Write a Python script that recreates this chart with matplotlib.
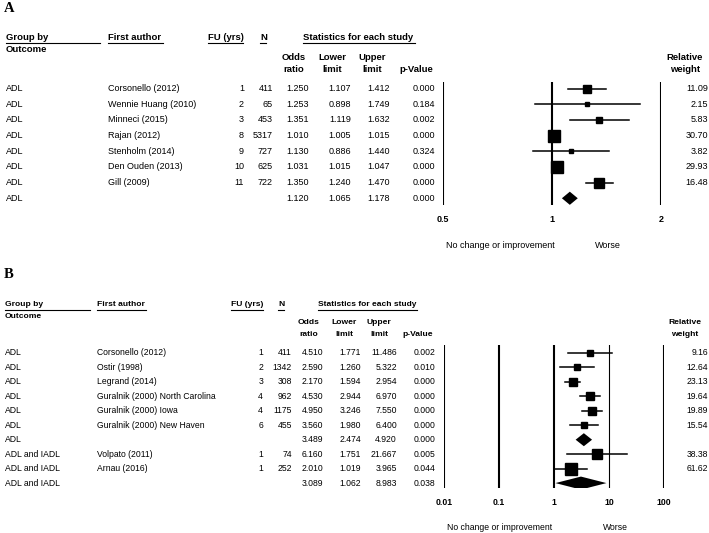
import numpy as np
import matplotlib
matplotlib.use("Agg")
from matplotlib import pyplot as plt
from matplotlib.transforms import blended_transform_factory
from matplotlib.ticker import NullLocator

plt.rcParams['font.family'] = ['Liberation Sans', 'DejaVu Sans']

# ---- panel A data ----
outcomeA = ['ADL'] * 8
authorA = ['Corsonello (2012)', 'Wennie Huang (2010)', 'Minneci (2015)', 'Rajan (2012)',
           'Stenholm (2014)', 'Den Ouden (2013)', 'Gill (2009)', '']
fuA = [1, 2, 3, 8, 9, 10, 11, None]
nA = [411, 65, 453, 5317, 727, 625, 722, None]
orA = [1.250, 1.253, 1.351, 1.010, 1.130, 1.031, 1.350, 1.120]
lowA = [1.107, 0.898, 1.119, 1.005, 0.886, 1.015, 1.240, 1.065]
upA = [1.412, 1.749, 1.632, 1.015, 1.440, 1.047, 1.470, 1.178]
pA = [0.000, 0.184, 0.002, 0.000, 0.324, 0.000, 0.000, 0.000]
weightA = [11.09, 2.15, 5.83, 30.70, 3.82, 29.93, 16.48, None]
ticksA = [0.5, 1, 2]
tick_labelsA = ['0.5', '1', '2']

# ---- panel B data ----
outcomeB = ['ADL'] * 7 + ['ADL and IADL'] * 3
authorB = ['Corsonello (2012)', 'Ostir (1998)', 'Legrand (2014)', 'Guralnik (2000) North Carolina',
           'Guralnik (2000) Iowa', 'Guralnik (2000) New Haven', '', 'Volpato (2011)', 'Arnau (2016)', '']
fuB = [1, 2, 3, 4, 4, 6, None, 1, 1, None]
nB = [411, 1342, 308, 962, 1175, 455, None, 74, 252, None]
orB = [4.510, 2.590, 2.170, 4.530, 4.950, 3.560, 3.489, 6.160, 2.010, 3.089]
lowB = [1.771, 1.260, 1.594, 2.944, 3.246, 1.980, 2.474, 1.751, 1.019, 1.062]
upB = [11.486, 5.322, 2.954, 6.970, 7.550, 6.400, 4.920, 21.667, 3.965, 8.983]
pB = [0.002, 0.010, 0.000, 0.000, 0.000, 0.000, 0.000, 0.005, 0.044, 0.038]
weightB = [9.16, 12.64, 23.13, 19.64, 19.89, 15.54, None, 38.38, 61.62, None]
ticksB = [0.01, 0.1, 1, 10, 100]
tick_labelsB = ['0.01', '0.1', '1', '10', '100']

W, H = 709, 533
fig = plt.figure(figsize=(W / 100, H / 100), dpi=100)
ax_txt = fig.add_axes([0, 0, 1, 1])
ax_txt.set_xlim(0, W)
ax_txt.set_ylim(H, 0)
ax_txt.axis('off')


def uline(x0, x1, y):
    ax_txt.plot([x0, x1], [y, y], color='black', lw=0.8)


def panel(letter, lay, outcome, author, fu, n, oddsr, low, up, p, weight, ticks, tick_labels):
    fs, hfs = lay['fs'], lay['hfs']
    # panel letter
    ax_txt.text(4, lay['label_y'], letter, fontsize=10.5, fontweight='bold',
                family=['Liberation Serif'], va='center', ha='left')

    # forest plot axes, placed in pixel space
    x0, x1 = lay['fx']
    y0, y1 = lay['fy']
    ax = fig.add_axes([x0 / W, 1 - y1 / H, (x1 - x0) / W, (y1 - y0) / H])
    ax.set_xscale('log')
    ax.set_xlim(ticks[0], ticks[-1])
    ax.set_ylim(*lay['ylim'])
    ax.set_facecolor('none')
    for s in ax.spines.values():
        s.set_visible(False)
    ax.xaxis.set_minor_locator(NullLocator())
    ax.set_xticks(ticks)
    ax.set_xticklabels(tick_labels, fontweight='bold', fontsize=fs)
    ax.set_yticks([])
    ax.tick_params(axis='x', length=0, pad=lay['pad'])
    for t in ticks:
        ax.axvline(t, color='black', lw=0.8 if t == 10 else 1.5)

    rows = np.arange(len(oddsr))
    for i in rows:
        if weight[i] is None:
            h = lay['dh']
            ax.fill([low[i], oddsr[i], up[i], oddsr[i]], [i, i - h, i, i + h],
                    color='black', lw=0)
        else:
            ax.plot([low[i], up[i]], [i, i], color='black', lw=1.1)
            side = lay['sq'] * np.sqrt(weight[i]) + 1.0
            ax.plot(oddsr[i], i, marker='s', color='black', ms=side * 0.72, lw=0)

    # table text, rows share the forest y scale
    tr = blended_transform_factory(ax_txt.transData, ax.transData)
    cx = lay['cols']
    for i in rows:
        kw = dict(transform=tr, va='center', fontsize=fs)
        ax_txt.text(cx['outcome'], i, outcome[i], ha='left', **kw)
        ax_txt.text(cx['author'], i, author[i], ha='left', **kw)
        if fu[i] is not None:
            ax_txt.text(cx['fu'], i, str(fu[i]), ha='right', **kw)
            ax_txt.text(cx['n'], i, str(n[i]), ha='right', **kw)
        ax_txt.text(cx['or'], i, '%.3f' % oddsr[i], ha='right', **kw)
        ax_txt.text(cx['lo'], i, '%.3f' % low[i], ha='right', **kw)
        ax_txt.text(cx['up'], i, '%.3f' % up[i], ha='right', **kw)
        ax_txt.text(cx['p'], i, '%.3f' % p[i], ha='right', **kw)
        if weight[i] is not None:
            ax_txt.text(cx['w'], i, '%.2f' % weight[i], ha='right', **kw)

    # headers
    hk = dict(fontsize=hfs, fontweight='bold', va='center')
    hy = lay['h_y']
    ax_txt.text(lay['group_x'], hy, 'Group by', ha='left', **hk)
    ax_txt.text(lay['group_x'], lay['outc_y'], 'Outcome', ha='left', **hk)
    ax_txt.text(cx['author'], hy, 'First author', ha='left', **hk)
    ax_txt.text(lay['fu_x'], hy, 'FU (yrs)', ha='left', **hk)
    ax_txt.text(lay['n_x'], hy, 'N', ha='left', **hk)
    ax_txt.text(lay['stats_x'][0], hy, 'Statistics for each study', ha='left',
                fontsize=lay['sfs'], fontweight='bold', va='center')
    uy = hy + 5
    uline(lay['group_x'], lay['group_end'], uy)
    uline(cx['author'], lay['author_end'], uy)
    uline(lay['fu_x'], lay['fu_end'], uy)
    uline(lay['n_x'], lay['n_x'] + 6, uy)
    uline(lay['stats_x'][0], lay['stats_x'][1], uy)
    l1, l2 = lay['sub_y']
    hc = lay['hc']
    ax_txt.text(hc['or'], l1, 'Odds', ha='center', **hk)
    ax_txt.text(hc['or'], l2, 'ratio', ha='center', **hk)
    ax_txt.text(hc['lo'], l1, 'Lower', ha='center', **hk)
    ax_txt.text(hc['lo'], l2, 'limit', ha='center', **hk)
    ax_txt.text(hc['up'], l1, 'Upper', ha='center', **hk)
    ax_txt.text(hc['up'], l2, 'limit', ha='center', **hk)
    ax_txt.text(hc['p'], l2, 'p-Value', ha='center', **hk)
    ax_txt.text(hc['w'], l1, 'Relative', ha='center', **hk)
    ax_txt.text(hc['w'], l2, 'weight', ha='center', **hk)

    # footer
    fy, (fa, fb) = lay['foot']
    ax_txt.text(fa, fy, 'No change or improvement', ha='center', va='center', fontsize=fs)
    ax_txt.text(fb, fy, 'Worse', ha='center', va='center', fontsize=fs)


layA = dict(label_y=9, fx=(443, 661), fy=(82, 205), ylim=(7.43, -0.42), pad=7.5,
            dh=0.42, sq=2.0, fs=6.5, hfs=6.8, sfs=6.8,
            cols=dict(outcome=6, author=108, fu=244, n=273, **{'or': 309}, lo=351, up=390, p=435, w=708),
            hc=dict(**{'or': 294}, lo=332, up=372, p=416, w=685),
            h_y=38, outc_y=50, sub_y=(58, 70), group_x=6, group_end=100, author_end=163,
            fu_x=208, fu_end=243, n_x=260, stats_x=(303, 415), foot=(245, (500, 608)))

layB = dict(label_y=275, fx=(444, 664), fy=(345, 488), ylim=(9.34, -0.55), pad=7,
            dh=0.45, sq=1.4, fs=6.2, hfs=6.1, sfs=6.0,
            cols=dict(outcome=5, author=97, fu=263, n=292, **{'or': 323}, lo=361, up=397, p=435, w=708),
            hc=dict(**{'or': 309}, lo=344, up=379, p=418, w=685),
            h_y=305, outc_y=316, sub_y=(323, 335), group_x=5, group_end=90, author_end=146,
            fu_x=231, fu_end=263, n_x=278, stats_x=(318, 417), foot=(527, (500, 615)))

panel('A', layA, outcomeA, authorA, fuA, nA, orA, lowA, upA, pA, weightA, ticksA, tick_labelsA)
panel('B', layB, outcomeB, authorB, fuB, nB, orB, lowB, upB, pB, weightB, ticksB, tick_labelsB)

fig.savefig('out.png', dpi=100)
